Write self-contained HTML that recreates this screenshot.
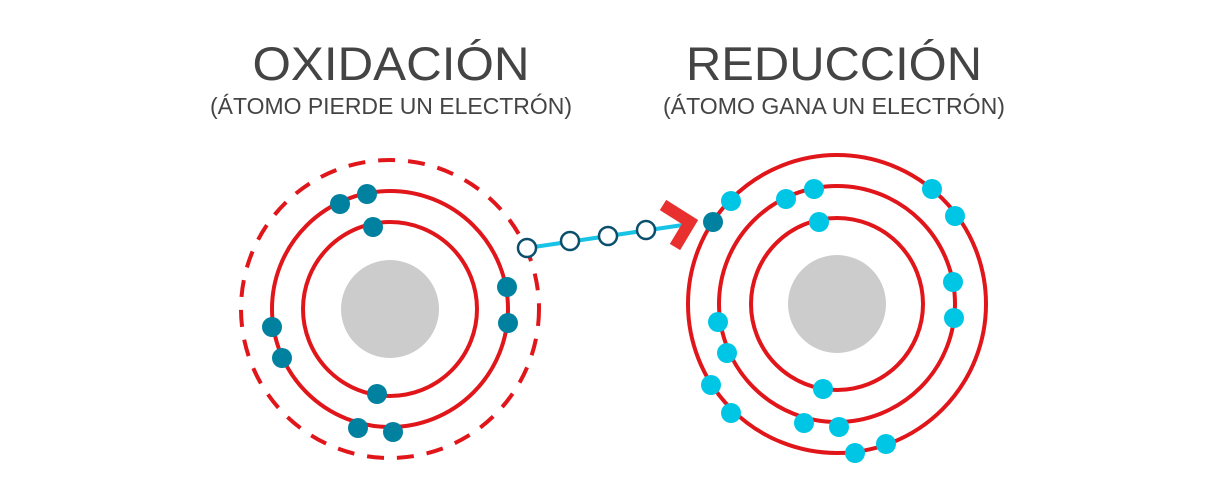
<!DOCTYPE html>
<html><head><meta charset="utf-8"><style>
html,body{margin:0;padding:0;background:#fff;}
svg{display:block;}
text{font-family:"Liberation Sans",sans-serif;fill:#444;}
</style></head><body>
<svg width="1215" height="502" viewBox="0 0 1215 502" xmlns="http://www.w3.org/2000/svg">
<text x="391" y="80" font-size="47" text-anchor="middle" textLength="277" lengthAdjust="spacingAndGlyphs">OXIDACIÓN</text>
<text x="391" y="114" font-size="23" text-anchor="middle" textLength="362" lengthAdjust="spacingAndGlyphs">(ÁTOMO PIERDE UN ELECTRÓN)</text>
<text x="834" y="80" font-size="47" text-anchor="middle" textLength="296" lengthAdjust="spacingAndGlyphs">REDUCCIÓN</text>
<text x="834" y="114" font-size="23" text-anchor="middle" textLength="342" lengthAdjust="spacingAndGlyphs">(ÁTOMO GANA UN ELECTRÓN)</text>

<g fill="none" stroke="#e0161b" stroke-width="4">
<circle cx="390" cy="309" r="87"/>
<circle cx="390" cy="309" r="118"/>
<circle cx="390" cy="309" r="149" stroke-dasharray="17 13"/>
<circle cx="837" cy="304" r="86"/>
<circle cx="837" cy="304" r="118"/>
<circle cx="837" cy="304" r="149"/>
</g>
<circle cx="390" cy="309" r="49" fill="#cccccc"/>
<circle cx="837" cy="304" r="49" fill="#cccccc"/>

<g fill="#00819f">
<circle cx="340" cy="204" r="10"/><circle cx="367" cy="194" r="10"/><circle cx="373" cy="227" r="10"/>
<circle cx="507" cy="287" r="10"/><circle cx="508" cy="323" r="10"/><circle cx="272" cy="327" r="10"/>
<circle cx="282" cy="358" r="10"/><circle cx="377" cy="394" r="10"/><circle cx="358" cy="428" r="10"/>
<circle cx="393" cy="432" r="10"/>
<circle cx="713" cy="222" r="10"/>
</g>
<g fill="#00c6e6">
<circle cx="731" cy="201" r="10"/><circle cx="786" cy="199" r="10"/><circle cx="814" cy="189" r="10"/>
<circle cx="819" cy="222" r="10"/><circle cx="932" cy="189" r="10"/><circle cx="955" cy="216" r="10"/>
<circle cx="953" cy="282" r="10"/><circle cx="954" cy="318" r="10"/><circle cx="718" cy="322" r="10"/>
<circle cx="727" cy="353" r="10"/><circle cx="711" cy="385" r="10"/><circle cx="731" cy="413" r="10"/>
<circle cx="823" cy="389" r="10"/><circle cx="804" cy="423" r="10"/><circle cx="839" cy="427" r="10"/>
<circle cx="855" cy="453" r="10"/><circle cx="886" cy="444" r="10"/>
</g>

<line x1="527" y1="248" x2="683" y2="225" stroke="#19c3e6" stroke-width="4"/>
<g fill="#fff" stroke="#0b4f6c" stroke-width="2.5">
<circle cx="527" cy="248" r="9"/><circle cx="570" cy="241" r="9"/>
<circle cx="608" cy="236" r="9"/><circle cx="646" cy="230" r="9"/>
</g>
<polyline points="663,205 690,222 675,247" fill="none" stroke="#e8312f" stroke-width="12" stroke-linejoin="miter" stroke-miterlimit="10"/>
</svg>
</body></html>
